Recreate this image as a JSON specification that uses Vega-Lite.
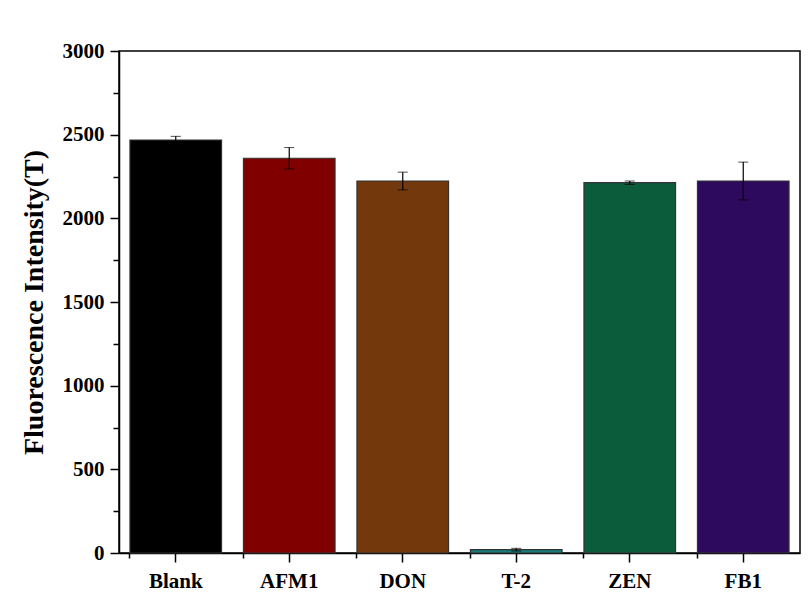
{
  "$schema": "https://vega.github.io/schema/vega-lite/v6.json",
  "autosize": "none",
  "width": 681,
  "height": 502,
  "padding": {"left": 119, "top": 51, "right": 9, "bottom": 44},
  "background": "white",
  "config": {
    "view": {"stroke": "black", "strokeWidth": 1.5},
    "font": "Liberation Serif"
  },
  "data": {
    "values": [
      {"sample": "Blank", "value": 2468, "err": 22},
      {"sample": "AFM1", "value": 2359, "err": 64},
      {"sample": "DON", "value": 2223, "err": 53},
      {"sample": "T-2", "value": 20, "err": 8},
      {"sample": "ZEN", "value": 2213, "err": 10},
      {"sample": "FB1", "value": 2223, "err": 113}
    ]
  },
  "resolve": {"axis": {"x": "independent", "y": "independent"}},
  "layer": [
    {
      "mark": {"type": "bar", "stroke": "#333333", "strokeWidth": 1.2},
      "encoding": {
        "x": {
          "field": "sample", "type": "nominal", "sort": null,
          "scale": {"paddingInner": 0.193, "paddingOuter": 0.0965},
          "axis": {
            "title": null, "labelAngle": 0, "labelFont": "Liberation Serif",
            "labelFontSize": 21, "labelFontWeight": "bold", "labelColor": "black",
            "labelPadding": 8, "tickSize": 9, "tickWidth": 1.5, "tickColor": "black",
            "domainColor": "black", "domainWidth": 1.5, "grid": false
          }
        },
        "y": {
          "field": "value", "type": "quantitative",
          "scale": {"domain": [0, 3000], "nice": false},
          "axis": {
            "title": "Fluorescence Intensity(T)", "titleFont": "Liberation Serif",
            "titleFontSize": 28, "titleFontWeight": "bold", "titleColor": "black",
            "titlePadding": 14, "format": "d",
            "values": [0, 500, 1000, 1500, 2000, 2500, 3000],
            "labelFont": "Liberation Serif", "labelFontSize": 21, "labelFontWeight": "bold",
            "labelColor": "black", "labelPadding": 6, "tickSize": 9, "tickWidth": 1.5,
            "tickColor": "black", "domainColor": "black", "domainWidth": 1.5, "grid": false
          }
        },
        "color": {
          "field": "sample", "type": "nominal", "legend": null,
          "scale": {
            "domain": ["Blank", "AFM1", "DON", "T-2", "ZEN", "FB1"],
            "range": ["#000000", "#800000", "#73390D", "#187C7C", "#0B5C3B", "#2E0A5F"]
          }
        }
      }
    },
    {
      "mark": {"type": "errorbar", "ticks": {"size": 10, "color": "black", "strokeWidth": 1.2}, "rule": {"color": "black", "strokeWidth": 1.2}},
      "encoding": {
        "x": {
          "field": "sample", "type": "nominal", "sort": null,
          "axis": {
            "title": null, "labels": false, "tickSize": 5, "tickWidth": 1.5,
            "tickColor": "black", "bandPosition": 0, "domain": false, "grid": false,
            "orient": "bottom",
            "values": ["Blank", "AFM1", "DON", "T-2", "ZEN", "FB1"]
          }
        },
        "y": {
          "field": "value", "type": "quantitative",
          "axis": {
            "title": null, "labels": false, "tickSize": 6, "tickWidth": 1.5,
            "tickColor": "black", "domain": false, "grid": false, "orient": "left",
            "values": [250, 750, 1250, 1750, 2250, 2750]
          }
        },
        "yError": {"field": "err"}
      }
    }
  ]
}
